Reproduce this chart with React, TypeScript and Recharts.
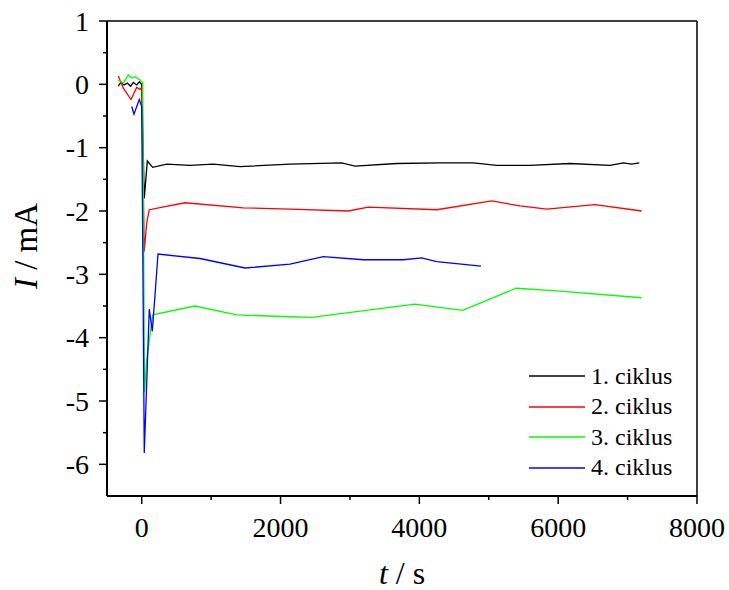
import { LineChart, Line, XAxis, YAxis, ReferenceLine } from "recharts";

const FONT = '"Liberation Serif", "Times New Roman", serif';

// t / s and I / mA for each cycle
const t1 = [-337, -303, -255, -208, -159, -121, -72, -35, 0, 37, 81, 158, 360, 696, 1031, 1416, 2136, 2881, 3073, 3674, 4298, 4778, 5114, 5594, 6170, 6747, 6939, 7059, 7169];
const i1 = [-0.03, 0.03, -0.01, 0.02, -0.03, 0.03, -0.01, 0.04, 0.0, -1.8, -1.21, -1.31, -1.26, -1.28, -1.26, -1.3, -1.26, -1.24, -1.29, -1.25, -1.24, -1.24, -1.28, -1.28, -1.25, -1.28, -1.24, -1.26, -1.24];

const t2 = [-337, -265, -154, -72, -25, 0, 37, 72, 109, 624, 1464, 2136, 2977, 3265, 4250, 5042, 5450, 5835, 6531, 7203];
const i2 = [0.13, -0.06, -0.24, -0.05, -0.08, -0.05, -2.64, -2.19, -1.98, -1.87, -1.95, -1.97, -2.0, -1.94, -1.98, -1.84, -1.92, -1.97, -1.9, -2.0];

const t3 = [-337, -265, -193, -144, -97, -25, 14, 40, 72, 158, 768, 1368, 2136, 2449, 3937, 4625, 5393, 5979, 7203];
const i3 = [0.07, 0.02, 0.15, 0.1, 0.12, 0.07, 0.03, -4.86, -4.35, -3.64, -3.5, -3.64, -3.67, -3.68, -3.47, -3.57, -3.22, -3.26, -3.37];

const t4 = [-144, -111, -35, 0, 37, 109, 153, 235, 840, 1488, 2136, 2616, 3193, 3769, 4034, 4250, 4888];
const i4 = [-0.35, -0.47, -0.24, -0.35, -5.82, -3.55, -3.9, -2.68, -2.75, -2.9, -2.84, -2.72, -2.77, -2.77, -2.74, -2.8, -2.87];

const xTicks = [0, 1000, 2000, 3000, 4000, 5000, 6000, 7000, 8000];
const yTicks = [1, 0.5, 0, -0.5, -1, -1.5, -2, -2.5, -3, -3.5, -4, -4.5, -5, -5.5, -6];

const zip = (t: number[], i: number[]) => t.map((v, k) => ({ t: v, I: i[k] }));

const series = [
  { name: "1. ciklus", color: "#000000", data: zip(t1, i1) },
  { name: "2. ciklus", color: "#ff0000", data: zip(t2, i2) },
  { name: "3. ciklus", color: "#00ff00", data: zip(t3, i3) },
  { name: "4. ciklus", color: "#0000ff", data: zip(t4, i4) },
];

function XTick({ x, y, payload }: any) {
  const major = payload.value % 2000 === 0;
  return (
    <g>
      <line x1={x} x2={x} y1={y} y2={y + (major ? 8 : 4)} stroke="#000" strokeWidth={1.5} />
      {major && (
        <text x={x} y={y + 41} textAnchor="middle" fontFamily={FONT} fontSize={28} fill="#000">
          {payload.value}
        </text>
      )}
    </g>
  );
}

function YTick({ x, y, payload }: any) {
  const major = Number.isInteger(payload.value);
  return (
    <g>
      <line x1={x - (major ? 8 : 4)} x2={x} y1={y} y2={y} stroke="#000" strokeWidth={1.5} />
      {major && (
        <text x={x - 18} y={y} dy="0.35em" textAnchor="end" fontFamily={FONT} fontSize={28} fill="#000">
          {payload.value}
        </text>
      )}
    </g>
  );
}

function LegendBox() {
  return (
    <div style={{ position: "absolute", left: 529, top: 361, fontFamily: FONT, fontSize: 24, color: "#000" }}>
      {series.map((s) => (
        <div key={s.name} style={{ display: "flex", alignItems: "center", height: 30.5, whiteSpace: "nowrap" }}>
          <svg width={56} height={4} style={{ marginRight: 6 }}>
            <line x1={0} x2={56} y1={2} y2={2} stroke={s.color} strokeWidth={1.3} />
          </svg>
          <span>{s.name}</span>
        </div>
      ))}
    </div>
  );
}

export default function App() {
  return (
    <div style={{ position: "absolute", left: 0, top: 0, width: 729, height: 590, background: "#fff" }}>
      <LineChart width={729} height={590} margin={{ top: 21, right: 32, bottom: 0, left: 0 }}>
        <XAxis
          type="number"
          dataKey="t"
          domain={[-500, 8000]}
          ticks={xTicks}
          allowDataOverflow
          height={94}
          tickSize={0}
          tickMargin={0}
          tickLine={false}
          tick={<XTick />}
          axisLine={{ stroke: "#000", strokeWidth: 2 }}
        />
        <YAxis
          type="number"
          domain={[-6.5, 1]}
          ticks={yTicks}
          allowDataOverflow
          width={107}
          tickSize={0}
          tickMargin={0}
          tickLine={false}
          tick={<YTick />}
          axisLine={{ stroke: "#000", strokeWidth: 2 }}
        />
        <ReferenceLine x={8000} stroke="#000" strokeWidth={1.5} />
        <ReferenceLine y={1} stroke="#000" strokeWidth={1.5} />
        {series.map((s) => (
          <Line
            key={s.name}
            data={s.data}
            dataKey="I"
            name={s.name}
            type="linear"
            stroke={s.color}
            strokeWidth={1.3}
            dot={false}
            isAnimationActive={false}
          />
        ))}
        <text x={402} y={584} textAnchor="middle" fontFamily={FONT} fontSize={32} fill="#000">
          <tspan fontStyle="italic">t</tspan> / s
        </text>
        <text
          x={37}
          y={246}
          transform="rotate(-90 37 246)"
          textAnchor="middle"
          fontFamily={FONT}
          fontSize={33}
          fill="#000"
        >
          <tspan fontStyle="italic">I</tspan> / mA
        </text>
      </LineChart>
      <LegendBox />
    </div>
  );
}
